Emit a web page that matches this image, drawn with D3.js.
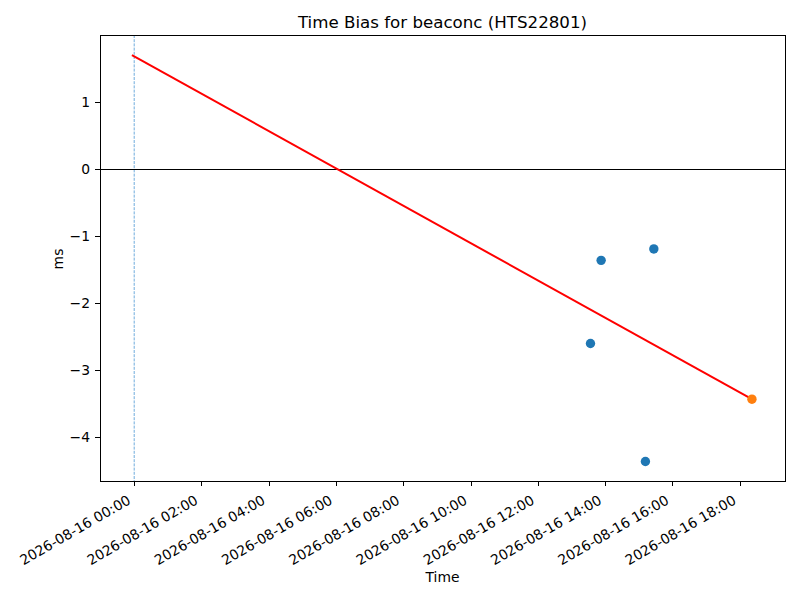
<!DOCTYPE html>
<html>
<head>
<meta charset="utf-8">
<script src="https://cdn.jsdelivr.net/npm/d3@7"></script>
<style>
  body { margin: 0; background: #fff; }
  text { font-family: "DejaVu Sans", sans-serif; fill: #000; }
</style>
</head>
<body>
<div id="chart"></div>
<script>
var pointTimes = ["2026-08-16 13:34", "2026-08-16 13:53", "2026-08-16 15:27", "2026-08-16 15:12"];
var pointBias = [-2.60, -1.36, -1.19, -4.36];
var latestTime = ["2026-08-16 18:22"];
var latestBias = [-3.43];
var fitTimes = ["2026-08-15 23:56", "2026-08-16 18:22"];
var fitBias = [1.70, -3.43];
var refTime = "2026-08-16 00:00";
var xLimits = ["2026-08-15 22:59", "2026-08-16 19:21"];
var yLimits = [-4.65, 2.0];
var xTickTimes = ["2026-08-16 00:00", "2026-08-16 02:00", "2026-08-16 04:00", "2026-08-16 06:00",
    "2026-08-16 08:00", "2026-08-16 10:00", "2026-08-16 12:00", "2026-08-16 14:00",
    "2026-08-16 16:00", "2026-08-16 18:00"];
var yTicks = [-4, -3, -2, -1, 0, 1];

var width = 800, height = 600;
var margin = {top: 35, right: 15, bottom: 119, left: 100};
var fontSize = "13.89px";
var parse = d3.utcParse("%Y-%m-%d %H:%M");
var fmt = d3.utcFormat("%Y-%m-%d %H:%M");

var svg = d3.select("#chart").append("svg")
    .attr("width", width)
    .attr("height", height);

var x = d3.scaleUtc()
    .domain(xLimits.map(parse))
    .range([margin.left, width - margin.right]);
var y = d3.scaleLinear()
    .domain(yLimits)
    .range([height - margin.bottom, margin.top]);

var plot = svg.append("g");

plot.append("line")
    .attr("x1", x(parse(refTime))).attr("x2", x(parse(refTime)))
    .attr("y1", margin.top).attr("y2", height - margin.bottom)
    .attr("stroke", "#4a97d4")
    .attr("stroke-width", 0.8)
    .attr("stroke-dasharray", "3,1.2");

plot.append("line")
    .attr("x1", margin.left).attr("x2", width - margin.right)
    .attr("y1", y(0)).attr("y2", y(0))
    .attr("stroke", "black")
    .attr("stroke-width", 1)
    .attr("shape-rendering", "crispEdges");

plot.selectAll(".pt")
    .data(pointTimes)
    .enter()
    .append("circle")
    .attr("class", "pt")
    .attr("cx", function(d) { return x(parse(d)); })
    .attr("cy", function(d, i) { return y(pointBias[i]); })
    .attr("r", 4.7)
    .attr("fill", "#1f77b4");

plot.append("path")
    .datum(fitTimes)
    .attr("fill", "none")
    .attr("stroke", "red")
    .attr("stroke-width", 2)
    .attr("d", d3.line()
        .x(function(d) { return x(parse(d)); })
        .y(function(d, i) { return y(fitBias[i]); }));

plot.selectAll(".last")
    .data(latestTime)
    .enter()
    .append("circle")
    .attr("class", "last")
    .attr("cx", function(d) { return x(parse(d)); })
    .attr("cy", function(d, i) { return y(latestBias[i]); })
    .attr("r", 4.7)
    .attr("fill", "#ff7f0e");

// axes
var xAxis = svg.append("g")
    .attr("transform", "translate(0," + (height - margin.bottom) + ")")
    .call(d3.axisBottom(x).tickValues(xTickTimes.map(parse)).tickFormat(fmt).tickSizeOuter(0).tickSize(5).tickPadding(4));
xAxis.select(".domain").remove();
xAxis.selectAll(".tick line").attr("stroke-width", 1).attr("shape-rendering", "crispEdges");
xAxis.selectAll(".tick text")
    .attr("font-size", fontSize)
    .attr("text-anchor", "end")
    .attr("y", 0)
    .attr("dy", 0)
    .attr("transform", "translate(-3,22) rotate(-30)");

var yAxis = svg.append("g")
    .attr("transform", "translate(" + margin.left + ",0)")
    .call(d3.axisLeft(y).tickValues(yTicks).tickFormat(function(d) { return String(d).replace("-", "\u2212"); })
        .tickSizeOuter(0).tickSize(5).tickPadding(5));
yAxis.select(".domain").remove();
yAxis.selectAll(".tick line").attr("stroke-width", 1).attr("shape-rendering", "crispEdges");
yAxis.selectAll(".tick text").attr("font-size", fontSize);

svg.append("rect")
    .attr("x", margin.left).attr("y", margin.top)
    .attr("width", width - margin.left - margin.right)
    .attr("height", height - margin.top - margin.bottom)
    .attr("fill", "none")
    .attr("stroke", "black")
    .attr("stroke-width", 1)
    .attr("shape-rendering", "crispEdges");

svg.append("text")
    .attr("x", (margin.left + width - margin.right) / 2)
    .attr("y", 28)
    .attr("text-anchor", "middle")
    .attr("font-size", "16.67px")
    .text("Time Bias for beaconc (HTS22801)");

svg.append("text")
    .attr("x", (margin.left + width - margin.right) / 2)
    .attr("y", 582)
    .attr("text-anchor", "middle")
    .attr("font-size", fontSize)
    .text("Time");

svg.append("text")
    .attr("transform", "translate(63,259) rotate(-90)")
    .attr("text-anchor", "middle")
    .attr("font-size", fontSize)
    .text("ms");
</script>
</body>
</html>
